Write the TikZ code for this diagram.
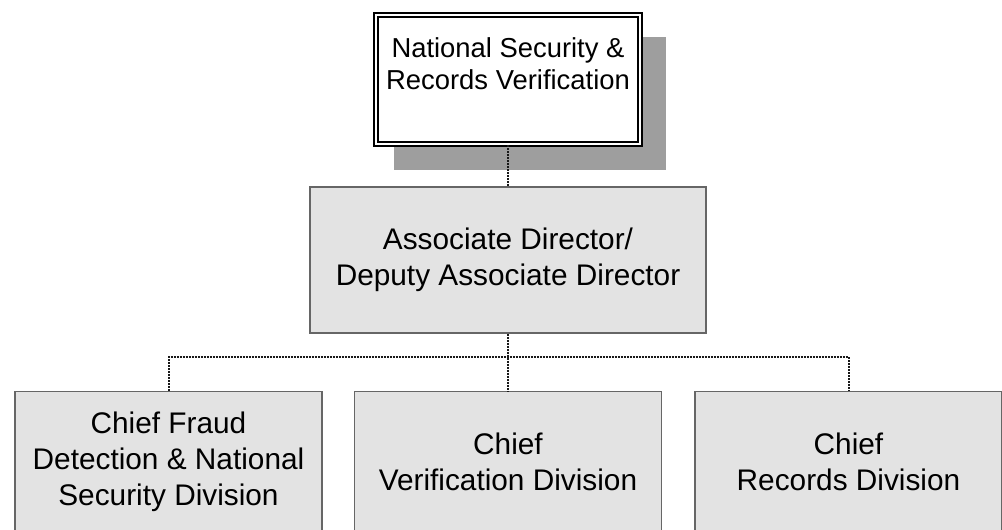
\documentclass[tikz,border=0pt]{standalone}
\usepackage{fontspec}
\setmainfont{Liberation Sans}
\usetikzlibrary{calc,shadows,positioning}

\tikzset{
  orgbox/.style={draw=black!60, line width=0.75pt, fill=black!11, align=center,
    inner sep=0pt, font=\fontsize{14.9}{18}\selectfont},
  chiefbox/.style={orgbox, minimum width=153.5pt, minimum height=70pt},
  orgline/.style={draw=black!90, line width=1pt, dash pattern=on 1pt off 0.5pt},
}

\begin{document}
\begin{tikzpicture}[x=0.5pt,y=-0.5pt]
	\useasboundingbox (0,0) rectangle (1002,530);
	\clip (0,0) rectangle (1002,530);
	
	% head office, double frame with shadow
	\node (nsrv) at (508,79.5) [draw=black, line width=1pt, double=white, double distance=1pt,
		fill=white, minimum width=132.25pt, minimum height=64.5pt, inner sep=0pt, align=center,
		font=\fontsize{13.7}{16}\selectfont,
		drop shadow={shadow xshift=10.8pt, shadow yshift=-11.5pt, shadow scale=1.03,
			fill=black!38, opacity=1}]
		{National Security \&\\Records Verification\\\mbox{}};
	
	\node (assoc) at (508,260) [orgbox, minimum width=198pt, minimum height=73pt]
		{Associate Director/\\Deputy Associate Director};
	
	% divisions
	\node (cfnsd) at (168.5,461.7) [chiefbox] {Chief Fraud\\Detection \& National\\Security Division};
	\node (cvd) at (508,461.7) [chiefbox] {Chief\\Verification Division};
	\node (crd) at (848.5,461.7) [chiefbox] {Chief\\Records Division};
	
	\coordinate (bus) at (508,357);
	
	\draw[orgline] (nsrv.south) -- (assoc.north);
	\draw[orgline] (assoc.south) -- (cvd.north);
	\draw[orgline] (cfnsd.north) |- (bus) -| (crd.north);
\end{tikzpicture}
\end{document}
